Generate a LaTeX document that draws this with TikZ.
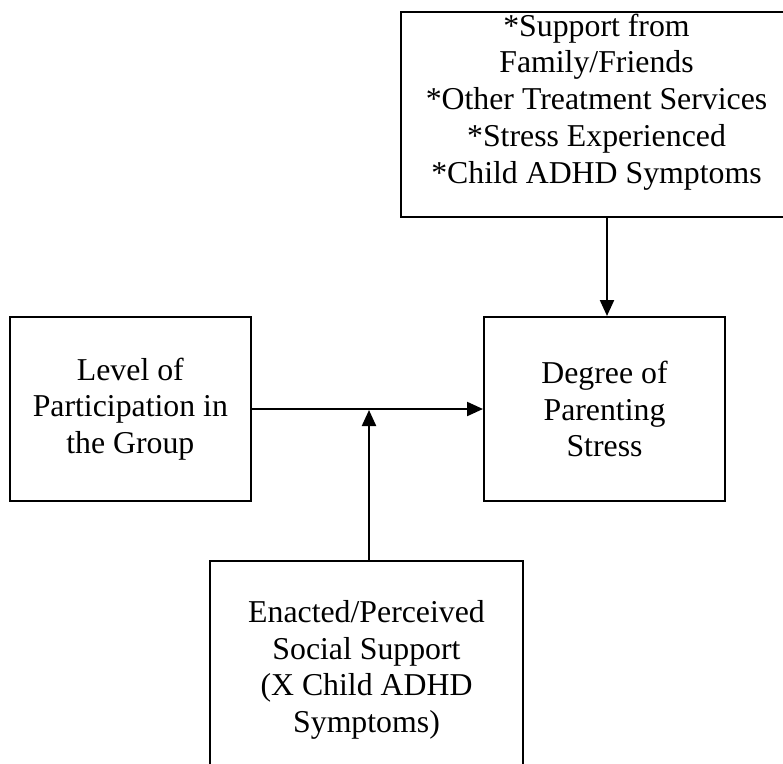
\documentclass[tikz,border=0pt]{standalone}
\usepackage{fontspec}
\setmainfont{Liberation Serif}
\usetikzlibrary{arrows.meta}
\begin{document}
\begin{tikzpicture}[x=1pt,y=-1pt,
  box/.style={draw,line width=2pt,rectangle,inner sep=0pt,align=center,
    font=\fontsize{31.8}{36.7}\selectfont},
  arr/.style={line width=2.2pt,-{Triangle[length=16pt,width=14pt]}}]
\useasboundingbox (0,0) rectangle (783,763);
\clip (0,0) rectangle (783,763);
\node[box,minimum width=391pt,minimum height=205pt] (factors) at (596.5,114.3)
  {*Support from\\Family/Friends\\*Other Treatment Services\\*Stress Experienced\\*Child ADHD Symptoms\\[-5pt]\mbox{}};
\node[box,minimum width=240.7pt,minimum height=184pt] (level) at (130.35,409)
  {Level of\\Participation in\\the Group};
\node[box,minimum width=241pt,minimum height=184pt] (stress) at (604.5,409)
  {Degree of\\Parenting\\Stress};
\node[box,minimum width=313pt,minimum height=218pt] (support) at (366.5,670)
  {Enacted/Perceived\\Social Support\\(X Child ADHD\\Symptoms)};
\coordinate (join) at (369,410);
\draw[arr] (level.east) -- (stress.west);
\draw[arr] (join |- support.north) -- (join);
\draw[arr] (factors.south -| 607,0) -- (stress.north -| 607,0);
\end{tikzpicture}
\end{document}
